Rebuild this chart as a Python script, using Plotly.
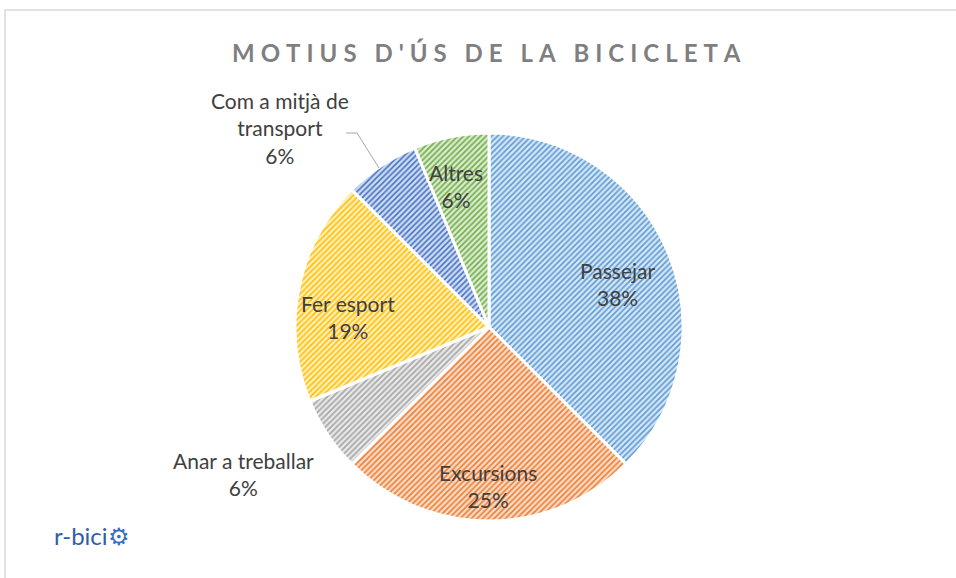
import plotly.graph_objects as go

# data (counts read as shares of 16 answers)
labels = ["Passejar", "Excursions", "Anar a treballar", "Fer esport",
          "Com a mitjà de transport", "Altres"]
counts = [6, 4, 1, 3, 1, 1]
colors = ["#5B9BD5", "#ED7D31", "#A5A5A5", "#FFC000", "#4472C4", "#70AD47"]
tints = ["#D6E6F5", "#FBDCC8", "#E8E8E8", "#FFEFBF", "#D0DCF0", "#DBEBD0"]

# label block centres in pixels (Excel-like placement)
label_pos = {
    "Passejar": (617, 284),
    "Excursions": (488, 486),
    "Anar a treballar": (243, 474),
    "Fer esport": (348, 317),
    "Com a mitjà de transport": (280, 128),
    "Altres": (456, 186),
}

W, H = 956, 578
TXT = "#404040"
FONT = "Lato, 'Open Sans', sans-serif"

total = sum(counts)

fig = go.Figure(go.Pie(
    labels=labels,
    values=counts,
    textinfo="none",
    sort=False,
    direction="clockwise",
    rotation=0,
    showlegend=False,
    hoverinfo="label+percent",
    marker=dict(
        colors=colors,
        line=dict(color="white", width=3),
        pattern=dict(shape="/", fgcolor=colors, bgcolor=tints,
                     size=4, solidity=0.4),
    ),
    domain=dict(x=[(489 - 194) / W, (489 + 194) / W],
                y=[(H - 521) / H, (H - 133) / H]),
))

for name, c in zip(labels, counts):
    x, y = label_pos[name]
    shown = name.replace("de transport", "de<br>transport")
    fig.add_annotation(
        text=f"{shown}<br>{round(c / total * 100)}%",
        x=x / W, y=1 - y / H, xref="paper", yref="paper",
        xanchor="center", yanchor="middle",
        showarrow=False, align="center",
        font=dict(family=FONT, size=21, color=TXT),
    )

# leader line for the small blue slice
fig.add_shape(type="path",
              path=f"M {346/W} {1-133/H} L {357/W} {1-133/H} L {379/W} {1-168/H}",
              xref="paper", yref="paper",
              line=dict(color="#A6A6A6", width=1))

# chart frame
fig.add_shape(type="rect", x0=5 / W, x1=1.01, y0=-0.01, y1=1 - 10 / H,
              xref="paper", yref="paper",
              line=dict(color="#D9D9D9", width=1.5))

title = "\u2009\u2009".join("MOTIUS D'ÚS DE LA BICICLETA")
fig.add_annotation(
    text=f"<b>{title}</b>", x=486 / W, y=1 - 52 / H,
    xref="paper", yref="paper", xanchor="center", yanchor="middle",
    showarrow=False,
    font=dict(family=FONT, size=24, color="#7F7F7F"),
)

# logo, approximated with text
fig.add_annotation(
    text="r-bici<span style='color:#3A6FC4'>⚙</span>",
    x=92 / W, y=1 - 535 / H, xref="paper", yref="paper",
    xanchor="center", yanchor="middle", showarrow=False,
    font=dict(family=FONT, size=24, color="#2F5DAA"),
)

fig.update_layout(
    width=W, height=H,
    margin=dict(l=0, r=0, t=0, b=0),
    paper_bgcolor="white",
    plot_bgcolor="white",
)

fig.write_html("out.html", config={"displayModeBar": False},
               post_script="document.body.style.margin='0';")
